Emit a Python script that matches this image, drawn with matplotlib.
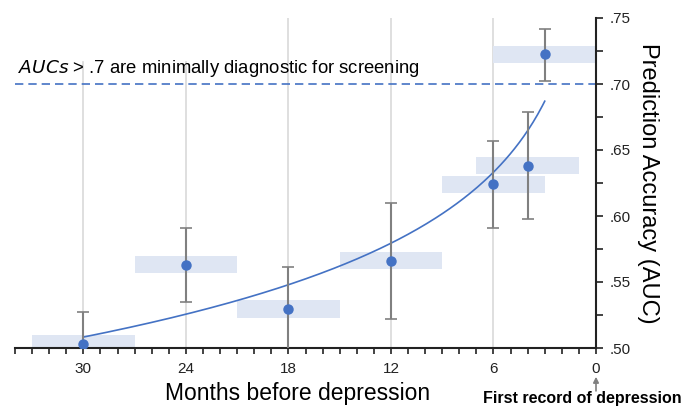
import numpy as np
import matplotlib
matplotlib.use("Agg")
import matplotlib.pyplot as plt
from matplotlib.patches import Rectangle

plt.rcParams['font.family'] = ['Liberation Sans', 'DejaVu Sans']

# Data
months = [30, 24, 18, 12, 6, 4, 3]
auc = [0.503, 0.563, 0.5295, 0.566, 0.624, 0.638, 0.7225]
ci_low = [0.479, 0.535, 0.498, 0.522, 0.591, 0.598, 0.7025]
ci_high = [0.527, 0.591, 0.561, 0.610, 0.657, 0.679, 0.742]
window_half = 3          # months on each side of each estimate
band_half = 0.0065       # AUC half-height of shaded band
threshold = 0.70
xticks = [30, 24, 18, 12, 6, 0]
yticks = [0.50, 0.55, 0.60, 0.65, 0.70, 0.75]
ytick_labels = ['.50', '.55', '.60', '.65', '.70', '.75']

blue = '#4472c4'
band = '#dfe6f3'
grey = '#808080'

fig = plt.figure(figsize=(6.9, 4.07), dpi=100)
ax = fig.add_axes([15/690, 1-348/407, (596-15)/690, (348-18)/407])
ax.set_xlim(34, 0)
ax.set_ylim(0.50, 0.75)

# vertical gridlines
grid_tops = [0.717, 0.717, 0.75, 0.75, 0.75]
for gx, gt in zip(xticks[:-1], grid_tops):
    ax.plot([gx, gx], [0.50, gt], color='#d9d9d9', lw=1.2, zorder=0)

# shaded bands
for m, a in zip(months, auc):
    ax.add_patch(Rectangle((m - window_half, a - band_half), 2*window_half, 2*band_half,
                           facecolor=band, edgecolor='none', zorder=1))

# threshold line
ax.axhline(threshold, color=blue, lw=1.2, ls=(0, (5, 3)), zorder=2)
ax.text(33.8, threshold + 0.0035, r'$\it{AUCs}$ > .7 are minimally diagnostic for screening',
        fontsize=13.3, color='black', va='bottom', ha='left')

# fitted log curve
b, a0 = np.polyfit(np.log(months), auc, 1)
xc = np.linspace(max(months), min(months), 200)
ax.plot(xc, a0 + b*np.log(xc), color=blue, lw=1.2, zorder=3)

# error bars and points
ax.errorbar(months, auc,
            yerr=[np.array(auc) - np.array(ci_low), np.array(ci_high) - np.array(auc)],
            fmt='none', ecolor=grey, elinewidth=1.5, capsize=4, capthick=1.2, zorder=4)
ax.plot(months, auc, 'o', color=blue, ms=6.5, zorder=5)

# axes styling
for s in ['left', 'top']:
    ax.spines[s].set_visible(False)
ax.spines['bottom'].set_color('#222222')
ax.spines['right'].set_color('#222222')
ax.spines['bottom'].set_linewidth(1.5)
ax.spines['right'].set_linewidth(1.5)
ax.yaxis.tick_right()
ax.set_yticks(yticks)
ax.set_yticklabels(ytick_labels)
ax.set_yticks([0.525, 0.575, 0.625, 0.675, 0.725], minor=True)
ax.set_xticks(xticks)
ax.set_xticklabels([str(t) for t in xticks])
ax.set_xticks(np.arange(34, -1, -1), minor=True)
ax.tick_params(axis='both', which='both', direction='out', color='#222222', width=1.2)
ax.tick_params(axis='x', which='both', length=4, labelsize=11, labelcolor='#222222', pad=6)
ax.tick_params(axis='y', which='both', length=5, labelsize=11, labelcolor='#222222', pad=5)

fig.text(298/690, 1-400/407, 'Months before depression', fontsize=16.5,
         ha='center', va='baseline')
ax.yaxis.set_label_position('right')
ax.set_ylabel('Prediction Accuracy (AUC)', fontsize=17, rotation=-90, labelpad=20)

# annotation for first record
ax.annotate('', xy=(0, 0.4782), xytext=(0, 0.4675), xycoords='data',
            arrowprops=dict(arrowstyle='-|>', color=grey, lw=1.2, mutation_scale=8,
                            shrinkA=0, shrinkB=0),
            annotation_clip=False)
fig.text(582/690, 1-403/407, 'First record of depression', fontsize=11.5, fontweight='bold',
         ha='center', va='baseline')

fig.savefig('out.png', dpi=100)
